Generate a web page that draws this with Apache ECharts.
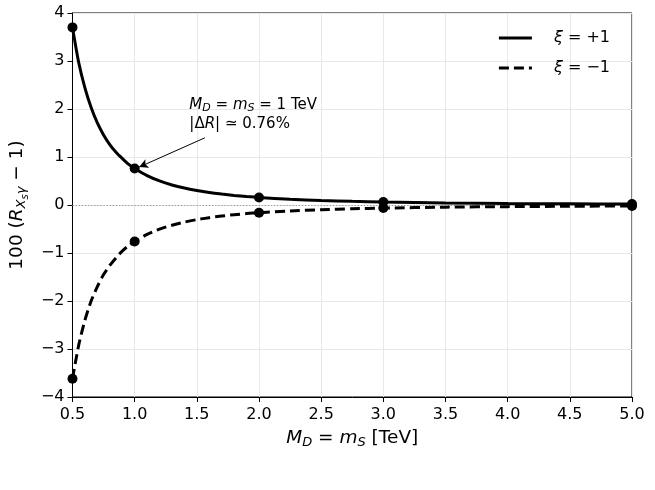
<!DOCTYPE html>
<html><head><meta charset="utf-8">
<script src="https://cdn.jsdelivr.net/npm/echarts@6/dist/echarts.min.js"></script>
<style>html,body{margin:0;padding:0;background:#fff}#c{width:655px;height:490px}</style>
</head><body><div id="c"></div>
<script>
const xCurve = [0.5,0.55,0.6,0.65,0.7,0.75,0.8,0.85,0.9,0.95,1.0,1.1,1.2,1.3,1.4,1.5,1.6,1.7,1.8,1.9,2.0,2.25,2.5,2.75,3.0,3.5,4.0,4.5,5.0];
const yPlus  = [3.70,2.97,2.44,2.03,1.71,1.46,1.26,1.10,0.97,0.85,0.76,0.612,0.502,0.418,0.353,0.302,0.260,0.227,0.199,0.176,0.156,0.120,0.094,0.076,0.062,0.044,0.032,0.025,0.019];
const yMinus = [-3.62,-2.92,-2.40,-2.00,-1.70,-1.45,-1.26,-1.10,-0.96,-0.85,-0.76,-0.613,-0.504,-0.421,-0.356,-0.305,-0.264,-0.230,-0.202,-0.179,-0.160,-0.123,-0.097,-0.078,-0.064,-0.045,-0.034,-0.026,-0.020];
const xMarks = [0.5,1.0,2.0,3.0,5.0];
const markPlus  = [3.70,0.76,0.156,0.062,0.019];
const markMinus = [-3.62,-0.76,-0.160,-0.064,-0.020];
const xTicks = {min:0.5, max:5.0, step:0.5};
const yTicks = {min:-4, max:4, step:1};
const seriesNames = ['xi+1','xi-1'];
const legendLabels = {'xi+1':'{g|ξ} = +1', 'xi-1':'{g|ξ} = −1'};
const arrowTail = [1.565, 1.40];
const arrowHead = [1.036, 0.79];
const annotTextAt = [1.44, 2.27];

const FONT = 'DejaVu Sans';
const pair = (xs, ys) => xs.map((x,i)=>[x, ys[i]]);
const chart = echarts.init(document.getElementById('c'), null, {renderer:'canvas'});
const richMath = {
  i:{fontStyle:'italic', fontFamily:FONT, fontSize:18.5, color:'#000'},
  n:{fontFamily:FONT, fontSize:18.5, color:'#000'},
  sub:{fontStyle:'italic', fontFamily:FONT, fontSize:13, color:'#000', padding:[9,0,0,0]}
};
chart.setOption({
  animation:false,
  backgroundColor:'#fff',
  grid:{left:70, right:23, top:13, bottom:93, show:true, borderColor:'#000', borderWidth:1, containLabel:false},
  legend:{
    orient:'vertical', right:40, top:25, itemWidth:33, itemHeight:14, itemGap:14,
    data:seriesNames,
    itemStyle:{opacity:0},
    lineStyle:{width:3},
    formatter:n=>legendLabels[n],
    textStyle:{fontFamily:FONT, fontSize:16, color:'#000', padding:[0,0,0,17],
      rich:{g:{fontStyle:'italic', fontFamily:FONT, fontSize:16, color:'#000'}}}
  },
  xAxis:{
    type:'value', min:xTicks.min, max:xTicks.max, interval:xTicks.step,
    name:'{i|M}{sub|D}{n| = }{i|m}{sub|S}{n| [TeV]}',
    nameLocation:'middle', nameGap:30,
    nameTextStyle:{rich:richMath},
    axisLine:{show:true, onZero:false, lineStyle:{color:'#000', width:1}},
    axisTick:{show:true, inside:false, length:5, lineStyle:{color:'#000'}},
    axisLabel:{formatter:v=>v.toFixed(1), fontFamily:FONT, fontSize:16, color:'#000', margin:10},
    splitLine:{show:true, lineStyle:{color:'#e8e8e8', width:1}}
  },
  yAxis:{
    type:'value', min:yTicks.min, max:yTicks.max, interval:yTicks.step,
    name:'{n|100 (}{i|R}{s1|X}{s2|s}{s1|γ}{n| − 1)}',
    nameLocation:'middle', nameGap:42, nameRotate:90,
    nameTextStyle:{rich:{
      n:{fontFamily:FONT, fontSize:18.5, color:'#000'},
      i:{fontFamily:FONT, fontSize:18.5, fontStyle:'italic', color:'#000'},
      s1:{fontFamily:FONT, fontSize:13, fontStyle:'italic', color:'#000', padding:[9,0,0,0]},
      s2:{fontFamily:FONT, fontSize:10, fontStyle:'italic', color:'#000', padding:[15,0,0,0]}
    }},
    axisLine:{show:true, onZero:false, lineStyle:{color:'#000', width:1}},
    axisTick:{show:true, inside:false, length:5, lineStyle:{color:'#000'}},
    axisLabel:{formatter:v=>v<0?'\u2212'+Math.abs(v):String(v), fontFamily:FONT, fontSize:16, color:'#000', margin:8},
    splitLine:{show:true, lineStyle:{color:'#e8e8e8', width:1}}
  },
  series:[
    {name:seriesNames[0], type:'line', data:pair(xCurve,yPlus), smooth:0.25,
     symbol:'none', lineStyle:{color:'#000', width:3, type:'solid'}, itemStyle:{color:'#000'}, z:3,
     markLine:{silent:true, symbol:['none','none'], label:{show:false}, z:2,
       lineStyle:{color:'#999', width:1.2, type:[1.3,1.8]}, data:[{yAxis:0}]}},
    {name:seriesNames[1], type:'line', data:pair(xCurve,yMinus), smooth:0.25,
     symbol:'none', lineStyle:{color:'#000', width:3, type:[10,5]}, itemStyle:{color:'#000'}, z:3},
    {name:'pts+', type:'scatter', data:pair(xMarks,markPlus), symbol:'circle', symbolSize:10,
     itemStyle:{color:'#000', opacity:1}, z:4, clip:true},
    {name:'pts-', type:'scatter', data:pair(xMarks,markMinus), symbol:'circle', symbolSize:10,
     itemStyle:{color:'#000', opacity:1}, z:4, clip:true,
     markLine:{silent:true, symbol:['none','arrow'], symbolSize:[7,9], label:{show:false},
       lineStyle:{color:'#000', width:1, type:'solid'},
       data:[[{coord:arrowTail},{coord:arrowHead}]]}}
  ]
});
const p = chart.convertToPixel({gridIndex:0}, annotTextAt);
chart.setOption({graphic:[{
  type:'text', left:p[0], top:p[1], z:10,
  style:{
    text:'{i|M}{sub|D}{n| = }{i|m}{sub|S}{n| = 1 TeV}\n{n||Δ}{i|R}{n|| ≃ 0.76%}',
    rich:{
      i:{fontStyle:'italic', fontFamily:FONT, fontSize:15, color:'#000', lineHeight:19},
      n:{fontFamily:FONT, fontSize:15, color:'#000', lineHeight:19},
      sub:{fontStyle:'italic', fontFamily:FONT, fontSize:11, color:'#000', padding:[7,0,0,0], lineHeight:19}
    }
  }
}]});
</script></body></html>
